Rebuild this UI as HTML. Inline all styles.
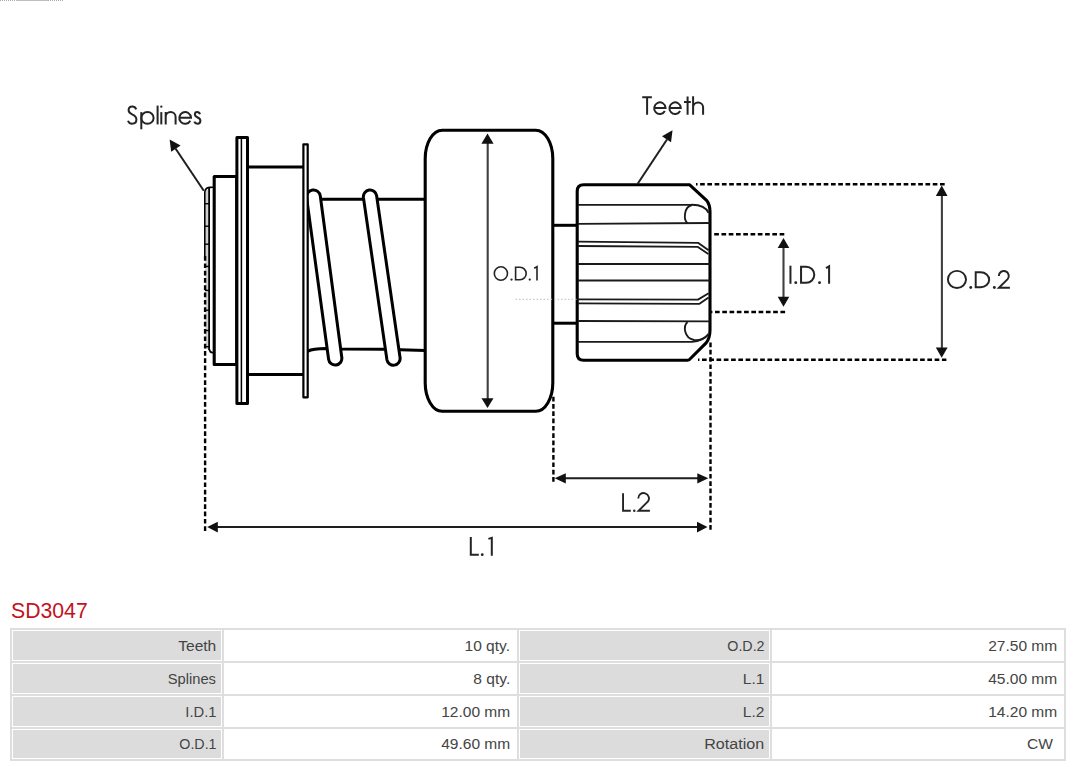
<!DOCTYPE html>
<html>
<head>
<meta charset="utf-8">
<style>
html,body{margin:0;padding:0;background:#fff;}
body{width:1080px;height:767px;position:relative;overflow:hidden;font-family:"Liberation Sans",sans-serif;}
#dia{position:absolute;left:0;top:0;}
#title{position:absolute;left:11px;top:598px;font-size:22px;transform:scaleX(0.965);transform-origin:0 50%;color:#c3121e;font-family:"Liberation Sans",sans-serif;line-height:26px;letter-spacing:0px;}
table.spec{position:absolute;left:10px;top:628px;width:1056px;border-collapse:separate;border-spacing:2px;background:#dedede;font-size:14px;color:#444;table-layout:fixed;}
table.spec td{border:1px solid #fff;height:29px;padding:1px 6px 0 0;text-align:right;line-height:28px;white-space:nowrap;box-sizing:border-box;}
table.spec tr.last td{height:28px;line-height:27px;}
table.spec td.l{background:#dcdcdc;padding-right:4.7px;}
table.spec td span{display:inline-block;transform:scaleX(1.11);transform-origin:100% 50%;}
table.spec td.v{background:#fff;}
</style>
</head>
<body>
<svg id="dia" width="1080" height="600" viewBox="0 0 1080 600">
  <line x1="0" y1="0.5" x2="16" y2="0.5" stroke="#aaa" stroke-width="1" stroke-dasharray="1 1"/>
  <line x1="16" y1="0.5" x2="48" y2="0.5" stroke="#c2bdb6" stroke-width="1"/>
  <line x1="48" y1="0.5" x2="64" y2="0.5" stroke="#aaa" stroke-width="1" stroke-dasharray="1 1"/>
  <g fill="none" stroke="#000" stroke-linejoin="round">
    <!-- shaft lines -->
    <line x1="306" y1="199.2" x2="425" y2="199.2" stroke-width="3"/>
    <path d="M307.5,351.3 Q313,348.6 326,348.6 L342,349.1 L384,349.3 L425,350.6" stroke-width="3"/>
    <!-- coils -->
    <path d="M306.6,197.8 A6.9,6.9 0 0 1 320.3,196 Q330,270 341.8,357.55 A6.65,6.65 0 0 1 328.6,359.25 Q317,275 306.6,197.8 Z" fill="#fff" stroke-width="3"/>
    <path d="M363.42,197.45 A6.65,6.65 0 0 1 376.58,195.55 L400.08,357.75 A6.65,6.65 0 0 1 386.92,359.65 Z" fill="#fff" stroke-width="3"/>
    <!-- spline strip -->
    <rect x="205.4" y="190" width="2.9" height="159" fill="#cfcfcf" stroke="none"/>
    <path d="M204.8,256 L204.8,192 Q205.3,187.8 209.5,187.4 L214,187.2" stroke-width="1.6"/>
    <path d="M209.2,349 Q209.8,352.5 212.5,352.6 L214,352.6" stroke-width="1.6"/>
    <line x1="209.1" y1="188" x2="209.1" y2="350" stroke-width="1.8"/>
    <g stroke-width="1.4">
      <line x1="204.8" y1="203.7" x2="209" y2="203.7"/>
      <line x1="204.8" y1="226.2" x2="209" y2="226.2"/>
      <line x1="204.8" y1="244.2" x2="209" y2="244.2"/>
      <line x1="204.8" y1="266.4" x2="209" y2="266.4"/>
      <line x1="204.8" y1="290.4" x2="209" y2="290.4"/>
      <line x1="204.8" y1="310.2" x2="209" y2="310.2"/>
      <line x1="204.8" y1="330.5" x2="209" y2="330.5"/>
      <line x1="204.8" y1="346.7" x2="209" y2="346.7"/>
    </g>
    <!-- small box -->
    <rect x="214.2" y="176.5" width="22.5" height="188" fill="#fff" stroke-width="3.1"/>
    <!-- flange 1 -->
    <rect x="236.9" y="137.5" width="10.6" height="265.9" fill="#fff" stroke-width="3"/>
    <line x1="241.4" y1="138.5" x2="241.4" y2="402.5" stroke-width="1.5"/>
    <!-- hub -->
    <line x1="247" y1="167" x2="303.5" y2="167" stroke-width="3"/>
    <line x1="247" y1="374.5" x2="303.5" y2="374.5" stroke-width="3"/>
    <!-- flange 2 -->
    <rect x="303.4" y="144.3" width="4.3" height="253" fill="#fff" stroke-width="2.2"/>
    <!-- OD1 disc -->
    <rect x="425.2" y="130.2" width="127.6" height="281.1" rx="17" ry="28.5" fill="#fff" stroke-width="3.1"/>
    <!-- short shaft -->
    <line x1="553" y1="225.3" x2="577.5" y2="225.3" stroke-width="3"/>
    <line x1="553" y1="323.2" x2="577.5" y2="323.2" stroke-width="3"/>
    <!-- pinion -->
    <path d="M583.7,184.8 L689.7,184.8 L706.5,200.3 Q710,204.5 710,212 L710,329.8 Q710,338.5 705.9,343.2 L690.5,358.5 Q689.5,360.2 687.5,360.2 L583.7,360.2 Q577.2,360.2 577.2,353.7 L577.2,191.3 Q577.2,184.8 583.7,184.8 Z" fill="#fff" stroke-width="3.1"/>
    <g stroke-width="1.85" stroke="#1a1a1a">
      <path d="M578,204.8 L691,204.8 C700,204.6 706,207 708.6,213"/>
      <path d="M692,205 C683.5,207 683.5,220 687.5,223.2"/>
      <path d="M578,223.8 L710,223"/>
      <path d="M578,241.6 L698,242.8 L708.6,250.3"/>
      <path d="M578,246 L697.5,246.8 L708.3,254"/>
      <path d="M578,264 L710,264"/>
      <path d="M578,280.5 L710,280.5"/>
      <path d="M578,299.3 L698,299.6 L708.6,293.3"/>
      <path d="M578,303.4 L699.5,303.8 L708.6,297.5"/>
      <path d="M578,321 L710,321.3"/>
      <path d="M687.5,322 C683,326 684,338 694,340 C700,340.5 705,338 708.6,334"/>
      <path d="M578,341.8 L692,341.8 C700,341.5 705,339 708.6,334"/>
    </g>
  </g>
  <!-- faint dotted -->
  <line x1="515.6" y1="299.3" x2="577" y2="299.3" stroke="#bbb" stroke-width="1" stroke-dasharray="1.5 2"/>
  <!-- dashed extension lines -->
  <g stroke="#000" stroke-width="2.4" fill="none">
    <g stroke-dasharray="4.67 2.6">
      <line x1="696" y1="184.2" x2="945.5" y2="184.2" stroke-dashoffset="3.17"/>
      <line x1="698" y1="359.7" x2="946.4" y2="359.7" stroke-dashoffset="3.27"/>
      <line x1="714.2" y1="234.2" x2="784.8" y2="234.2" stroke-dashoffset="0"/>
      <line x1="710.5" y1="312" x2="785.4" y2="312" stroke-dashoffset="2.77"/>
    </g>
    <g stroke-dasharray="4.7 2.6">
      <line x1="205.1" y1="256" x2="205.1" y2="531" stroke-dashoffset="7.2"/>
      <line x1="710.5" y1="341" x2="710.5" y2="531" stroke-dashoffset="5.8"/>
      <line x1="553.4" y1="395" x2="553.4" y2="482" stroke-dashoffset="5.6"/>
    </g>
  </g>
  <!-- dimension arrows -->
  <g stroke="#404040" stroke-width="2.1" fill="none">
    <line x1="487.7" y1="140" x2="487.7" y2="402"/>
    <line x1="941.9" y1="192" x2="941.9" y2="352"/>
    <line x1="783.5" y1="244" x2="783.5" y2="301"/>
  </g>
  <g stroke="#1e1e1e" stroke-width="2" fill="none">
    <line x1="560" y1="478.3" x2="703" y2="478.3"/>
    <line x1="212" y1="527.1" x2="702" y2="527.1"/>
    <line x1="637.5" y1="184" x2="667" y2="139.5"/>
    <line x1="203.8" y1="190.7" x2="175.5" y2="148.5"/>
  </g>
  <g fill="#111" stroke="none">
    <polygon points="487.5,133.6 481.4,143.7 493.6,143.7"/>
    <polygon points="487.5,408 481.5,398.3 493.5,398.3"/>
    <polygon points="941.7,185.6 935.8,196 947.6,196"/>
    <polygon points="941.7,357.8 935.8,347.4 947.6,347.4"/>
    <polygon points="783.5,238 777.7,247.9 789.3,247.9"/>
    <polygon points="783.5,306.7 777.7,296.8 789.3,296.8"/>
    <polygon points="554.7,478.3 565.8,473.2 565.8,483.4"/>
    <polygon points="708.3,478.3 697.3,473.2 697.3,483.4"/>
    <polygon points="207.2,527.1 217.8,521.7 217.8,532.5"/>
    <polygon points="707.5,527.1 697,521.7 697,532.5"/>
    <polygon points="672.5,130.2 662,136.2 671,142.2"/>
    <polygon points="169.6,139.6 180.6,145.4 171.2,151.7"/>
  </g>
  <!-- labels (geometric glyphs) -->
  <g fill="none" stroke="#242424" stroke-linecap="butt" stroke-linejoin="miter">
    <!-- Splines -->
    <g stroke-width="2">
      <path d="M136.2,109.3 C135.5,107.4 134,106.6 132.2,106.6 C129.9,106.6 128.6,108.2 128.6,110.3 C128.6,112.5 130.3,113.6 132.5,114.6 C135,115.7 136.4,117.2 136.4,119.6 C136.4,122.2 134.5,123.8 132,123.8 C129.8,123.8 128.6,122.6 128,120.8"/>
      <path d="M141.3,112.1 L141.3,129.3"/>
      <ellipse cx="147.45" cy="117.95" rx="6.15" ry="5.9"/>
      <path d="M157.6,105.6 L157.6,124.4"/>
      <path d="M161.3,112.1 L161.3,124.4"/>
      <path d="M165.7,112.1 L165.7,124.4 M165.7,117 A4.95,4.9 0 0 1 175.6,117 L175.6,124.4"/>
      <path d="M179.3,117.7 L191,117.7 A5.85,5.85 0 1 0 190.32,120.70"/>
      <path d="M200,114.3 C199.5,112.8 198.5,112.1 197.2,112.1 C195.7,112.1 194.9,113.2 194.9,114.5 C194.9,116 196.2,116.8 197.7,117.5 C199.4,118.3 200.4,119.2 200.4,120.8 C200.4,122.7 199,123.8 197.4,123.8 C195.9,123.8 194.8,123 194.3,121.7"/>
    </g>
    <!-- Teeth -->
    <g stroke-width="2">
      <path d="M642.2,97.2 L651.9,97.2 M647.1,97.2 L647.1,114.7"/>
      <path d="M654.2,107.9 L665.5,107.9 A5.65,5.8 0 1 0 664.84,110.92"/>
      <path d="M669.45,107.9 L680.75,107.9 A5.65,5.8 0 1 0 680.09,110.92"/>
      <path d="M687.6,96.5 L687.6,114.7 M684,102 L690.8,102"/>
      <path d="M693.1,96.2 L693.1,114.7 M693.1,107.4 A5,5 0 0 1 703.1,107.4 L703.1,114.7"/>
    </g>
    <!-- O.D.1 -->
    <g stroke-width="1.6">
      <ellipse cx="500.9" cy="273.5" rx="6.6" ry="6.7"/>
      <path d="M515.6,267.3 L520,267.3 A6.2,6.2 0 0 1 520,279.7 L515.6,279.7 Z"/>
      <path d="M534.2,268.3 L537,266.7 L537,280.6"/>
    </g>
    <!-- I.D.1 -->
    <g stroke-width="2">
      <path d="M790.45,265.7 L790.45,283.8"/>
      <path d="M801.05,266.7 L806.25,266.7 A8.05,8.05 0 0 1 806.25,282.8 L801.05,282.8 Z"/>
      <path d="M826,268.1 L829.1,266.3 L829.1,283.8"/>
    </g>
    <!-- O.D.2 -->
    <g stroke-width="1.95">
      <ellipse cx="956.95" cy="279.45" rx="9.05" ry="8.6"/>
      <path d="M975.7,272.2 L980.6,272.2 A8.6,7.55 0 0 1 980.6,287.3 L975.7,287.3 Z"/>
      <path d="M998.8,276 A5,5 0 1 1 1007.63,279.2 L998.9,287.7 L1009.9,287.7"/>
    </g>
    <!-- L.2 -->
    <g stroke-width="1.9">
      <path d="M623.05,493.2 L623.05,510.8 L630.8,510.8"/>
      <path d="M638.25,498.4 A5.35,5.35 0 1 1 647.98,501.47 L638.6,510.75 L649.9,510.75"/>
    </g>
    <!-- L.1 -->
    <g stroke-width="2">
      <path d="M470.8,537.1 L470.8,554.7 L478.8,554.7"/>
      <path d="M488.4,538.9 L491.8,537.9 L491.8,555.7"/>
    </g>
  </g>
  <g fill="#242424" stroke="none">
    <circle cx="161.30" cy="106.70" r="1.15"/>
    <circle cx="511.55" cy="279.60" r="1.15"/>
    <circle cx="529.75" cy="279.60" r="1.15"/>
    <circle cx="795.75" cy="282.65" r="1.45"/>
    <circle cx="819.55" cy="282.65" r="1.45"/>
    <circle cx="970.75" cy="287.50" r="1.45"/>
    <circle cx="994.35" cy="287.50" r="1.45"/>
    <circle cx="634.30" cy="510.70" r="1.20"/>
    <circle cx="482.25" cy="554.70" r="1.40"/>
  </g>
</svg>
<div id="title">SD3047</div>
<table class="spec">
  <colgroup><col style="width:210px"><col style="width:293px"><col style="width:251px"><col style="width:292px"></colgroup>
  <tr><td class="l"><span>Teeth</span></td><td class="v"><span>10 qty.</span></td><td class="l"><span style="transform:scaleX(1.02)">O.D.2</span></td><td class="v"><span>27.50 mm</span></td></tr>
  <tr><td class="l"><span style="transform:scaleX(1.05)">Splines</span></td><td class="v"><span>8 qty.</span></td><td class="l"><span>L.1</span></td><td class="v"><span>45.00 mm</span></td></tr>
  <tr><td class="l"><span style="transform:scaleX(1.055)">I.D.1</span></td><td class="v"><span>12.00 mm</span></td><td class="l"><span>L.2</span></td><td class="v"><span>14.20 mm</span></td></tr>
  <tr class="last"><td class="l"><span style="transform:scaleX(1.02)">O.D.1</span></td><td class="v"><span>49.60 mm</span></td><td class="l"><span style="transform:scaleX(1.15)">Rotation</span></td><td class="v"><span>CW&nbsp;</span></td></tr>
</table>
</body>
</html>
